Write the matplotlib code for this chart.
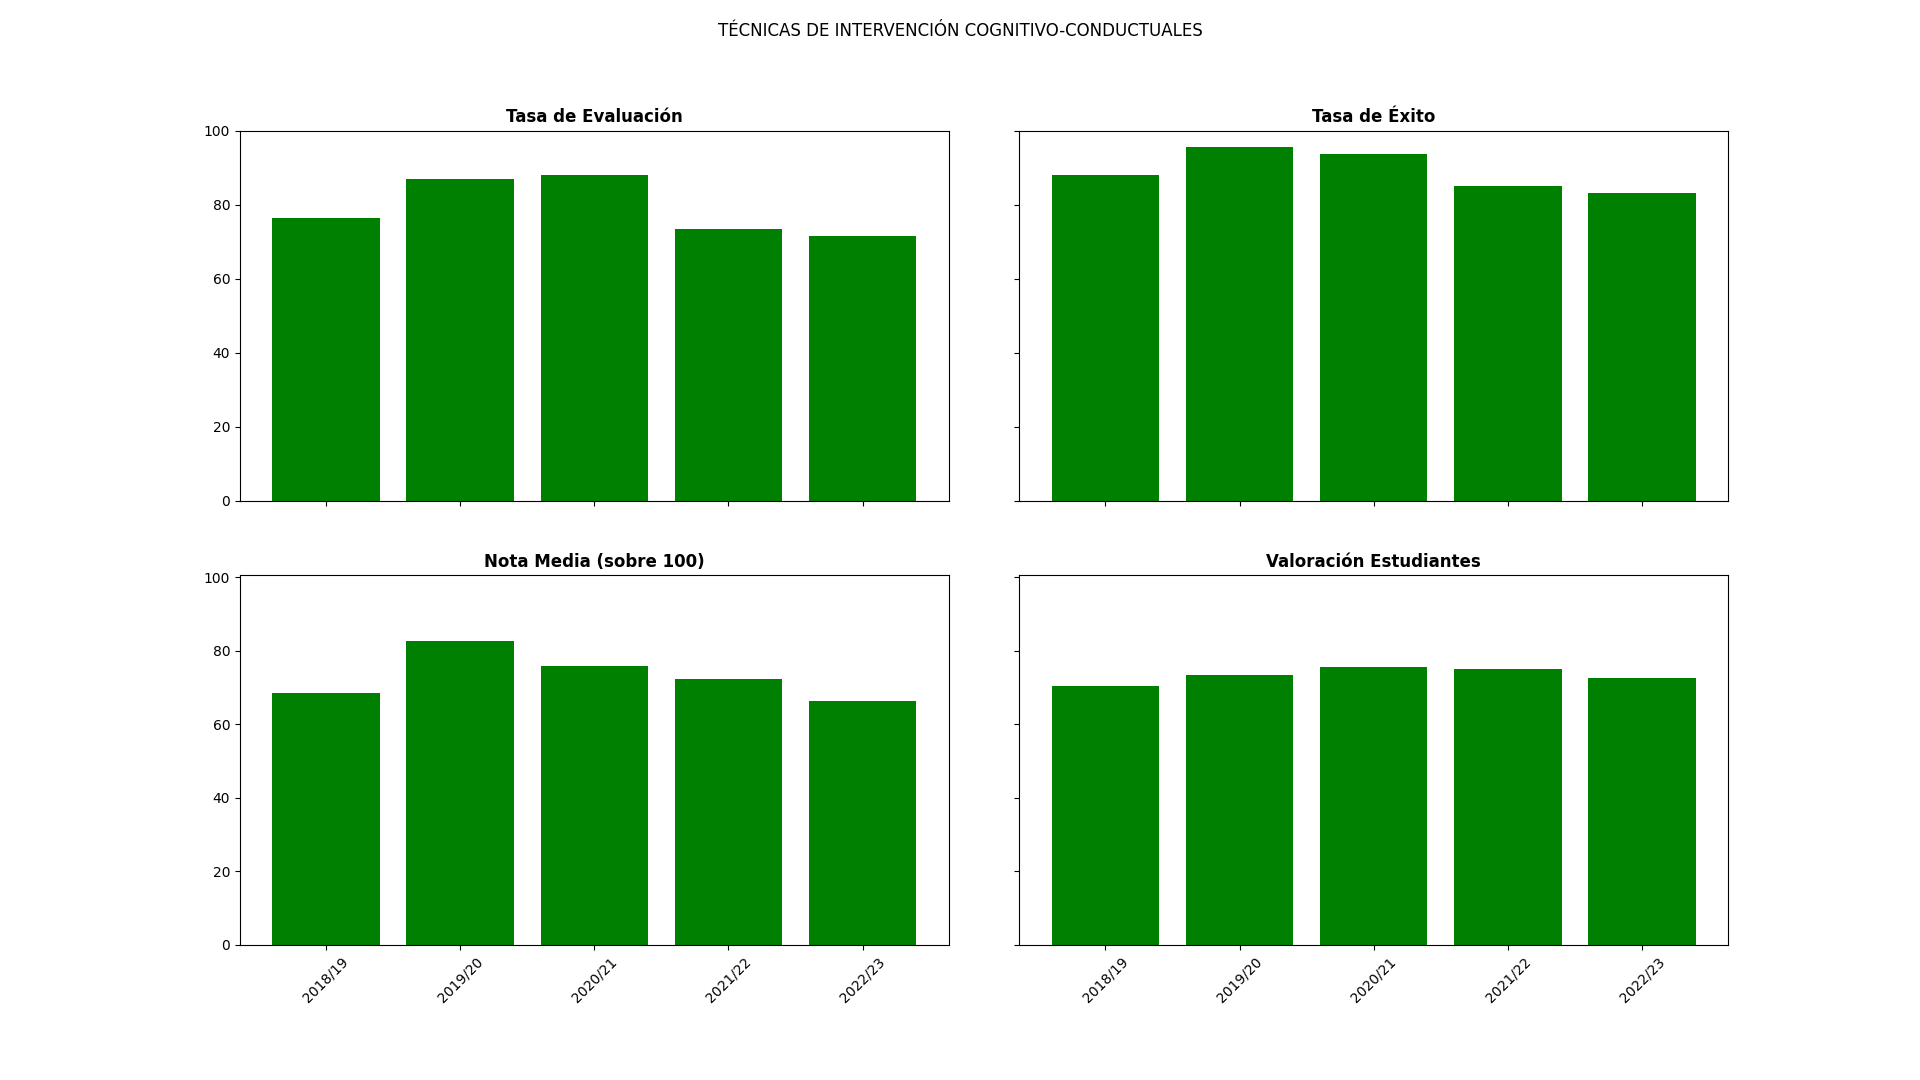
import matplotlib
matplotlib.use("Agg")
import matplotlib.pyplot as plt
import numpy as np

years = ["2018/19", "2019/20", "2020/21", "2021/22", "2022/23"]
tasa_evaluacion = [76.4, 86.9, 88.0, 73.4, 71.5]
tasa_exito = [88.0, 95.6, 93.7, 85.0, 83.2]
nota_media = [68.4, 82.5, 75.9, 72.2, 66.2]
valoracion = [70.3, 73.5, 75.6, 74.9, 72.7]

titles = ["Tasa de Evaluación", "Tasa de Éxito",
          "Nota Media (sobre 100)", "Valoración Estudiantes"]
series = [tasa_evaluacion, tasa_exito, nota_media, valoracion]

fig, axes = plt.subplots(2, 2, figsize=(19.2, 10.8), dpi=100,
                         sharex=True, sharey='row')
fig.subplots_adjust(left=0.125, right=0.9, top=0.879, bottom=0.125,
                    wspace=0.1, hspace=0.2)
fig.suptitle("TÉCNICAS DE INTERVENCIÓN COGNITIVO-CONDUCTUALES", fontsize=12)

x = np.arange(len(years))
for i, ax in enumerate(axes.flat):
    ax.bar(x, series[i], color="green", width=0.8)
    ax.set_title(titles[i], fontweight="bold", fontsize=12)
    ax.set_xticks(x)
    ax.set_xticklabels(years, rotation=45)

axes[0, 0].set_ylim(0, 100)
axes[1, 0].set_ylim(0, 100.6)
for ax in axes[1]:
    ax.tick_params(axis='x', labelbottom=True)

fig.savefig("out.png", dpi=100)
